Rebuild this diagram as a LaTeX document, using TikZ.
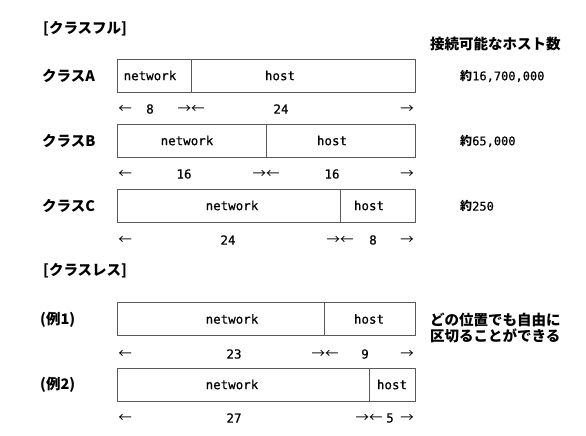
\documentclass[tikz,border=0pt]{standalone}
\usepackage{fontspec}
\usepackage{tikz}
\newfontfamily\jpfont{Noto Sans CJK JP}
\newfontfamily\asciifont[FakeBold=0.5]{DejaVu Sans Mono}

\begin{document}
\begin{tikzpicture}[x=1pt,y=-1pt,
    field/.style={draw=black!65,line width=0.6pt},
    mono/.style={inner sep=0pt,font=\asciifont\fontsize{12.5}{14}\selectfont},
    arr/.style={inner sep=0pt,font=\jpfont\fontsize{13.5}{14}\selectfont},
    jp/.style={inner sep=0pt,anchor=west,font=\jpfont\bfseries\fontsize{14.5}{16}\selectfont},
    val/.style={inner sep=0pt,anchor=west,font=\asciifont\fontsize{12}{14}\selectfont}]
\useasboundingbox (0,0) rectangle (586,436);

% headings
\node [jp] (full) at (43,29) {[クラスフル]};
\node [jp] (less) at (43,271) {[クラスレス]};
\node [jp] (count) at (430,44) {接続可能なホスト数};

% boxes
\foreach \y/\d in {59/191, 124/266, 189/340, 302/324, 368/369} {
    \draw [field] (117,\y) rectangle (415,\y+33) (\d,\y) -- (\d,\y+33);
}

% row labels
\node [jp] (labA) at (42,76) {クラスA};
\node [jp] (labB) at (42,141) {クラスB};
\node [jp] (labC) at (42,206) {クラスC};
\node [jp] (ex1) at (40,320) {(例1)};
\node [jp] (ex2) at (40,385) {(例2)};

% fields
\node [mono] (netA) at (150,75.5) {network};
\node [mono] (hostA) at (280,75.5) {host};
\node [mono] (netB) at (187,140.5) {network};
\node [mono] (hostB) at (332,140.5) {host};
\node [mono] (netC) at (232,205.5) {network};
\node [mono] (hostC) at (369,205.5) {host};
\node [mono] (net1) at (232,319) {network};
\node [mono] (host1) at (369,319) {host};
\node [mono] (net2) at (232,384.5) {network};
\node [mono] (host2) at (392,384.5) {host};

% bit widths
\foreach \y/\d/\nm in {109/191/A, 174/266/B, 240/340/C, 354/325/1, 418/369/2} {
    \node [arr] (l\nm) at (125,\y) {←};
    \node [arr] (m\nm) at (\d,\y) {→←};
    \node [arr] (r\nm) at (407,\y) {→};
}
\node [mono] (nA) at (150,109) {8};
\node [mono] (hA) at (281,109) {24};
\node [mono] (nB) at (184,174) {16};
\node [mono] (hB) at (332,174) {16};
\node [mono] (nC) at (228,240) {24};
\node [mono] (hC) at (373,240) {8};
\node [mono] (n1) at (234,354) {23};
\node [mono] (h1) at (365,354) {9};
\node [mono] (n2) at (234,418) {27};
\node [mono] (h2) at (390,418) {5};

% host counts
\node [val] (cA) at (460,76) {{\jpfont\bfseries 約}16,700,000};
\node [val] (cB) at (460,141) {{\jpfont\bfseries 約}65,000};
\node [val] (cC) at (460,206) {{\jpfont\bfseries 約}250};
\node [jp] (free1) at (430,320) {どの位置でも自由に};
\node [jp] (free2) at (430,336) {区切ることができる};

\end{tikzpicture}
\end{document}
